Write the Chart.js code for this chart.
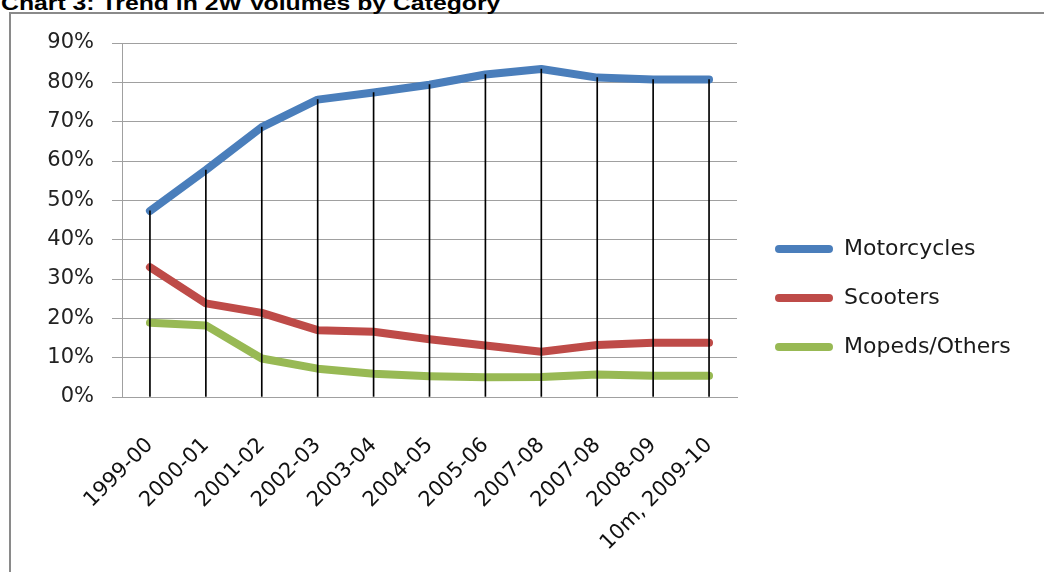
<!DOCTYPE html>
<html>
<head>
<meta charset="utf-8">
<script src="https://cdn.jsdelivr.net/npm/chart.js@4.4.1/dist/chart.umd.min.js"></script>
<style>
  html, body { margin: 0; padding: 0; width: 1044px; height: 572px; overflow: hidden; background: #fff; }
  #frame { position: absolute; left: 9px; top: 12px; width: 1200px; height: 800px;
           border-left: 2px solid #8a8a8a; border-top: 2px solid #8a8a8a; }
  #title { position: absolute; left: 1px; top: -8px; font: bold 21px "Liberation Sans", Arial, sans-serif;
           line-height: 21px; white-space: nowrap; color: #000; transform: scaleX(1.18); transform-origin: 0 0; }
  #wrap { position: absolute; left: 0; top: 0; width: 1044px; height: 572px; }
</style>
</head>
<body>
<div id="frame"></div>
<div id="title">Chart 3: Trend in 2W Volumes by Category</div>
<div id="wrap"><canvas id="c" width="1044" height="572"></canvas></div>
<script>
// ---- data ----
const categories = ['1999-00', '2000-01', '2001-02', '2002-03', '2003-04', '2004-05', '2005-06', '2007-08', '2007-08', '2008-09', '10m, 2009-10'];
const motorcycles = [47.3, 57.7, 68.6, 75.6, 77.4, 79.4, 82.0, 83.4, 81.2, 80.7, 80.7];
const scooters    = [33.0, 23.8, 21.4, 17.0, 16.6, 14.7, 13.1, 11.5, 13.2, 13.8, 13.8];
const mopeds      = [18.9, 18.2,  9.8,  7.2,  5.9,  5.3,  5.0,  5.1,  5.7,  5.4,  5.4];
const seriesNames = ['Motorcycles', 'Scooters', 'Mopeds/Others'];
const yMin = 0, yMax = 90, yStep = 10;

// ---- styles ----
const COLORS = ['#4a7ebb', '#be4b48', '#98b954'];
const FONT = 'DejaVu Sans';
const LEGEND_GAP = 38;   // from plot right edge to first legend swatch
const LEGEND_TOP = 195;  // from plot top to first legend item
const LEGEND_BOX_W = 300;

const legendNudge = {
  id: 'legendNudge',
  afterLayout(chart) {
    const lg = chart.legend;
    if (!lg) return;
    const pad = lg.options.labels.padding;
    const ca = chart.chartArea;
    const h = lg.height;
    lg.left = ca.right + LEGEND_GAP - pad;
    lg.right = lg.left + LEGEND_BOX_W;
    lg.width = LEGEND_BOX_W;
    lg.top = ca.top + LEGEND_TOP - pad;
    lg.bottom = lg.top + h;
  }
};

function lineSet(name, data, color) {
  return {
    type: 'line', label: name, data: data,
    borderColor: color, backgroundColor: color,
    borderWidth: 8, pointRadius: 0, pointHoverRadius: 0,
    borderCapStyle: 'round', borderJoinStyle: 'round',
    tension: 0, fill: false, order: 1
  };
}

new Chart(document.getElementById('c'), {
  type: 'line',
  data: {
    labels: categories,
    datasets: [
      { type: 'bar', label: 'drop lines', data: motorcycles, backgroundColor: '#000',
        borderWidth: 0, barThickness: 1, order: 0 },
      lineSet(seriesNames[0], motorcycles, COLORS[0]),
      lineSet(seriesNames[1], scooters, COLORS[1]),
      lineSet(seriesNames[2], mopeds, COLORS[2])
    ]
  },
  options: {
    responsive: false,
    animation: false,
    devicePixelRatio: 1,
    layout: { padding: { left: 0, top: 43, right: 207, bottom: 0 } },
    plugins: {
      tooltip: { enabled: false },
      legend: {
        position: 'right',
        align: 'start',
        maxWidth: 100,
        labels: {
          filter: (item) => item.datasetIndex !== 0,
          generateLabels: (chart) => Chart.defaults.plugins.legend.labels.generateLabels(chart)
            .map(l => Object.assign(l, { lineWidth: 0, strokeStyle: 'rgba(0,0,0,0)' })),
          boxWidth: 58,
          boxHeight: 8,
          useBorderRadius: true,
          borderRadius: 4,
          padding: 27,
          color: '#1a1a1a',
          font: { family: FONT, size: 22 }
        }
      }
    },
    scales: {
      x: {
        grid: { display: false, drawTicks: false },
        border: { display: true, color: '#a0a0a0', width: 1 },
        ticks: {
          autoSkip: false, minRotation: 45, maxRotation: 45, padding: 36,
          color: '#111', font: { family: FONT, size: 21 }
        },
        afterFit: (s) => { s.height = 175; }
      },
      y: {
        min: yMin, max: yMax,
        ticks: { stepSize: yStep, callback: (v) => v + '%', padding: 18, color: '#222',
                 font: { family: FONT, size: 21 } },
        grid: { color: '#a0a0a0', lineWidth: 1, drawTicks: true, tickLength: 10 },
        border: { display: true, color: '#a0a0a0', width: 1 },
        afterFit: (s) => { s.width = 122; }
      }
    }
  },
  plugins: [legendNudge]
});
</script>
</body>
</html>
